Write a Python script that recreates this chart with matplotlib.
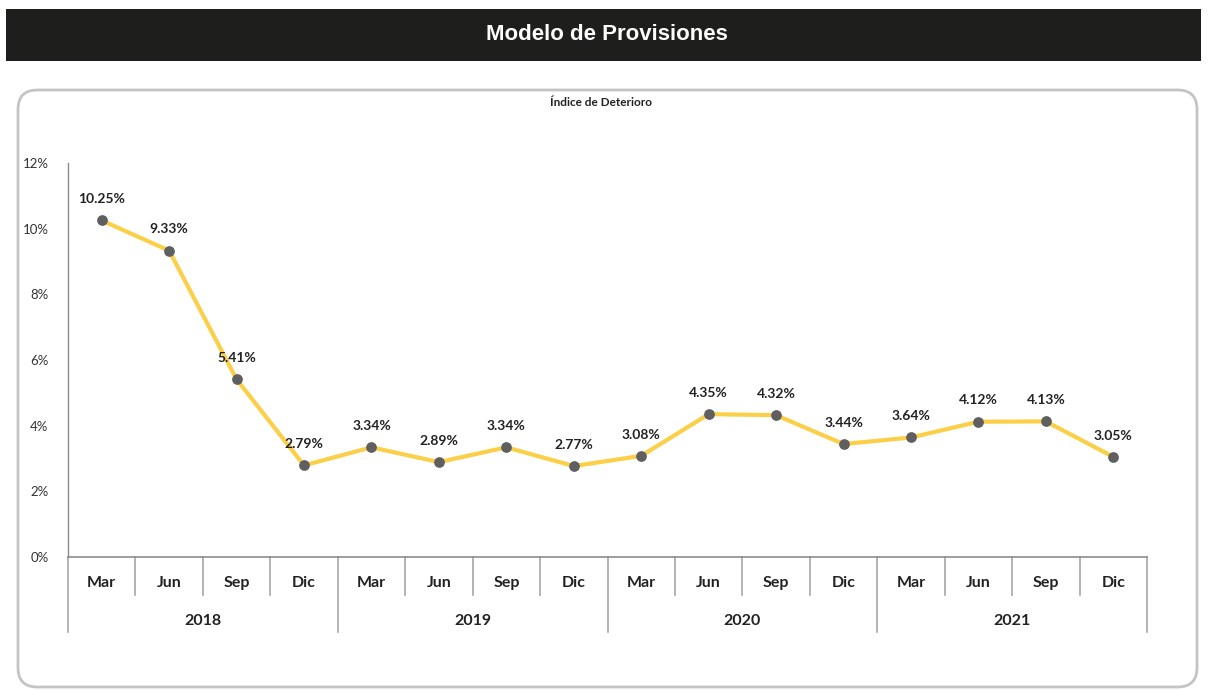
import matplotlib.pyplot as plt
from matplotlib.patches import FancyBboxPatch, Rectangle
from matplotlib.transforms import blended_transform_factory

# datos
meses = ['Mar', 'Jun', 'Sep', 'Dic'] * 4
anios = ['2018', '2019', '2020', '2021']
indice = [10.25, 9.33, 5.41, 2.79, 3.34, 2.89, 3.34, 2.77,
          3.08, 4.35, 4.32, 3.44, 3.64, 4.12, 4.13, 3.05]

plt.rcParams['font.family'] = ['Lato', 'DejaVu Sans']

W, H = 1208, 690
fig = plt.figure(figsize=(W / 100, H / 100), dpi=100)

# barra de titulo
fig.patches.append(Rectangle((6 / W, 1 - 61 / H), (1201 - 6) / W, 52 / H,
                             transform=fig.transFigure, facecolor='#1e1e1c',
                             edgecolor='none', zorder=-2))
fig.text(607 / W, 1 - 35 / H, 'Modelo de Provisiones', color='white',
         fontsize=16, fontweight='bold', family='Liberation Sans',
         ha='center', va='center')

# marco redondeado
fig.patches.append(FancyBboxPatch((18 / W, 3 / H), (1197 - 18) / W, (600 - 3) / H,
                                  boxstyle='round,pad=0,rounding_size=0.016',
                                  transform=fig.transFigure, facecolor='white',
                                  edgecolor='#c4c4c4', linewidth=2,
                                  mutation_aspect=W / H, zorder=-2))
fig.text(601 / W, 1 - 103 / H, 'Índice de Deterioro', fontsize=8.5,
         fontweight='bold', color='#222222', ha='center', va='center')

x0, x1, ytop, ybot = 68, 1147, 163, 557
ax = fig.add_axes([x0 / W, 1 - ybot / H, (x1 - x0) / W, (ybot - ytop) / H])
ax.set_facecolor('none')
ax.set_zorder(2)

x = list(range(len(indice)))
ax.plot(x, indice, color='#fbcf47', linewidth=3, zorder=2)
ax.scatter(x, indice, s=45, color='#5f5f5f', zorder=3)
for xi, v in zip(x, indice):
    ax.annotate(f'{v:.2f}%', (xi, v), xytext=(0, 11), textcoords='offset points',
                ha='center', va='bottom', fontsize=10, fontweight='bold',
                color='#222222')

ax.set_xlim(-0.5, len(indice) - 0.5)
ax.set_ylim(0, 12)
ax.set_yticks([0, 2, 4, 6, 8, 10, 12])
ax.set_yticklabels([f'{t}%' for t in [0, 2, 4, 6, 8, 10, 12]])
ax.tick_params(axis='y', length=0, pad=14, labelsize=9.5, labelcolor='#333333')
ax.set_xticks([])
for s in ['top', 'right']:
    ax.spines[s].set_visible(False)
ax.spines['left'].set_color('#8c8c8c')
ax.spines['bottom'].set_color('#8c8c8c')
ax.spines['left'].set_linewidth(1)
ax.spines['bottom'].set_linewidth(1.2)

# eje de categorias en dos niveles
tr = blended_transform_factory(ax.transData, ax.transAxes)
h_px = ybot - ytop
y_mes = -(595 - ybot) / h_px
y_anio = -(632 - ybot) / h_px
for i in range(len(meses) + 1):
    ylow = y_anio if i % 4 == 0 else y_mes
    ax.plot([i - 0.5, i - 0.5], [0, ylow], transform=tr, color='#a6a6a6',
            linewidth=1.2, clip_on=False)
for i, m in enumerate(meses):
    ax.text(i, -(583 - ybot) / h_px, m, transform=tr, ha='center', va='center',
            fontsize=11.5, fontweight='bold', color='#222222')
for j, a in enumerate(anios):
    ax.text(4 * j + 1.5, -(621 - ybot) / h_px, a, transform=tr, ha='center',
            va='center', fontsize=11.5, fontweight='bold', color='#222222')

fig.savefig('out.png', dpi=100)
